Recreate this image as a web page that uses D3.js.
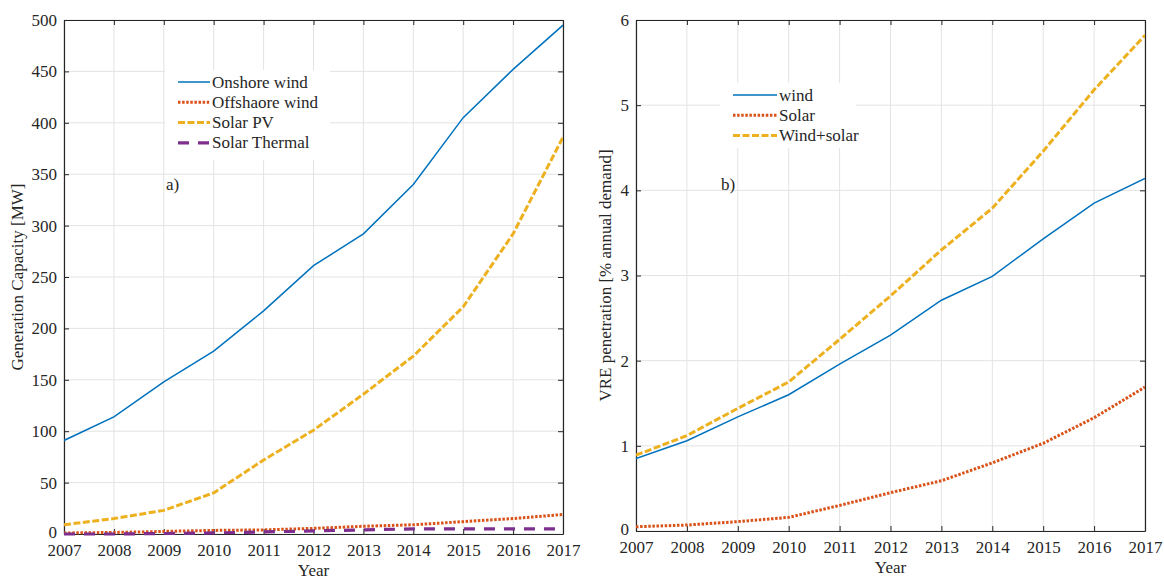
<!DOCTYPE html>
<html>
<head>
<meta charset="utf-8">
<script src="https://cdn.jsdelivr.net/npm/d3@7"></script>
<style>
  body { margin: 0; background: #fff; }
  svg, text { font-family: "Liberation Serif", "Times New Roman", serif; }
  text { fill: #262626; }
</style>
</head>
<body>
<div id="chart"></div>
<script>
const years = [2007, 2008, 2009, 2010, 2011, 2012, 2013, 2014, 2015, 2016, 2017];

// panel a) generation capacity [MW]
const onshoreWind = [91, 114, 148, 178, 217, 261, 292, 340, 405, 452, 495];
const offshoreWind = [1, 1.5, 2.5, 3.5, 4, 5.5, 7.5, 9, 12, 15, 19];
const solarPV = [9, 15, 23, 40, 72, 101, 136, 173, 221, 292, 386];
const solarThermal = [0, 0, 0.5, 1, 2, 3, 4, 5, 5, 5, 5];

// panel b) VRE penetration [% annual demand]
const windPen = [0.85, 1.06, 1.34, 1.6, 1.96, 2.3, 2.71, 2.99, 3.43, 3.85, 4.14];
const solarPen = [0.05, 0.07, 0.11, 0.16, 0.3, 0.45, 0.59, 0.8, 1.03, 1.33, 1.69];
const windSolarPen = [0.89, 1.12, 1.44, 1.75, 2.25, 2.76, 3.3, 3.79, 4.46, 5.18, 5.82];

const yTicksA = [0, 50, 100, 150, 200, 250, 300, 350, 400, 450, 500];
const yTicksB = [0, 1, 2, 3, 4, 5, 6];

const C = { blue: '#0072BD', orange: '#D95319', yellow: '#EDB120', purple: '#7E2F8E' };

const styles = {
  solid: { w: 1.5, dash: null },
  dotted: { w: 3, dash: '2.5,1.6' },
  dashdot: { w: 3, dash: '7,2.5' },
  dashed: { w: 3.2, dash: '11,9' }
};

const FONT = '"Liberation Serif", "Times New Roman", serif';

const svg = d3.select('#chart').append('svg')
  .attr('width', 1164).attr('height', 579);

function panel(opts) {
  const { left, right, top, bottom, yMax, yTicks, series, yLabel, tag, legend } = opts;
  const x = d3.scaleLinear().domain([2007, 2017]).range([left, right]);
  const y = d3.scaleLinear().domain([0, yMax]).range([bottom, top]);
  const g = svg.append('g');

  // grid
  g.append('g').selectAll('line').data(years).join('line')
    .attr('x1', d => x(d)).attr('x2', d => x(d))
    .attr('y1', top).attr('y2', bottom)
    .attr('stroke', '#e3e3e3').attr('stroke-width', 1);
  g.append('g').selectAll('line').data(yTicks).join('line')
    .attr('x1', left).attr('x2', right)
    .attr('y1', d => y(d)).attr('y2', d => y(d))
    .attr('stroke', '#e3e3e3').attr('stroke-width', 1);

  // axes (inward ticks, box)
  const tick = 5;
  const axB = g.append('g').attr('transform', `translate(0,${bottom})`)
    .call(d3.axisBottom(x).tickValues(years).tickFormat(d3.format('d')).tickSizeInner(-tick).tickSizeOuter(0).tickPadding(10));
  const axT = g.append('g').attr('transform', `translate(0,${top})`)
    .call(d3.axisTop(x).tickValues(years).tickFormat('').tickSizeInner(-tick).tickSizeOuter(0));
  const axL = g.append('g').attr('transform', `translate(${left},0)`)
    .call(d3.axisLeft(y).tickValues(yTicks).tickFormat(d3.format('d')).tickSizeInner(-tick).tickSizeOuter(0).tickPadding(7));
  const axR = g.append('g').attr('transform', `translate(${right},0)`)
    .call(d3.axisRight(y).tickValues(yTicks).tickFormat('').tickSizeInner(-tick).tickSizeOuter(0));
  [axB, axT, axL, axR].forEach(a => {
    a.attr('font-family', FONT).attr('font-size', 17);
    a.selectAll('path').attr('stroke', '#262626').attr('stroke-width', 1.2);
    a.selectAll('line').attr('stroke', '#262626');
    a.selectAll('text').attr('fill', '#262626');
  });
  // lift the "0" label slightly so it clears the year labels
  axL.selectAll('.tick text').filter(d => d === 0).attr('dy', '0.2em');

  // lines (drawn over the axes, like MATLAB)
  const clipId = 'clip' + tag.replace(')', '');
  g.append('clipPath').attr('id', clipId).append('rect')
    .attr('x', left).attr('y', top - 2).attr('width', right - left).attr('height', bottom - top + 5);
  const line = d3.line().x((d, i) => x(years[i])).y(d => y(d));
  series.forEach(s => {
    const st = styles[s.style];
    g.append('path').datum(s.values)
      .attr('clip-path', `url(#${clipId})`)
      .attr('d', line)
      .attr('fill', 'none')
      .attr('stroke', s.color)
      .attr('stroke-width', st.w)
      .attr('stroke-dasharray', st.dash);
  });

  g.append('text').attr('x', (left + right) / 2).attr('y', bottom + 42)
    .attr('text-anchor', 'middle').attr('font-size', 17).text('Year');
  g.append('text')
    .attr('transform', `translate(${opts.yLabelX},${(top + bottom) / 2}) rotate(-90)`)
    .attr('text-anchor', 'middle').attr('font-size', 17).text(yLabel);
  g.append('text').attr('x', opts.tagX).attr('y', 190).attr('font-size', 17).text(tag);

  // legend
  const lg = g.append('g');
  lg.append('rect').attr('x', legend.x).attr('y', legend.y)
    .attr('width', legend.w).attr('height', legend.h).attr('fill', '#fff');
  series.forEach((s, i) => {
    const ly = legend.y + 12 + i * 20.3;
    const st = styles[s.style];
    lg.append('line').attr('x1', legend.x + 13).attr('x2', legend.x + 13 + legend.sample)
      .attr('y1', ly).attr('y2', ly)
      .attr('stroke', s.color).attr('stroke-width', st.w)
      .attr('stroke-dasharray', st.dash);
    lg.append('text').attr('x', legend.x + 15 + legend.sample).attr('y', ly + 5.5)
      .attr('font-size', 17).text(s.name);
  });
}

panel({
  left: 64, right: 563, top: 20, bottom: 534, yMax: 500, yTicks: yTicksA,
  yLabel: 'Generation Capacity [MW]', yLabelX: 23, tag: 'a)', tagX: 166,
  series: [
    { name: 'Onshore wind', values: onshoreWind, color: C.blue, style: 'solid' },
    { name: 'Offshaore wind', values: offshoreWind, color: C.orange, style: 'dotted' },
    { name: 'Solar PV', values: solarPV, color: C.yellow, style: 'dashdot' },
    { name: 'Solar Thermal', values: solarThermal, color: C.purple, style: 'dashed' }
  ],
  legend: { x: 165, y: 70, w: 165, h: 90, sample: 32 }
});

panel({
  left: 636, right: 1145, top: 20, bottom: 531, yMax: 6, yTicks: yTicksB,
  yLabel: 'VRE penetration [% annual demand]', yLabelX: 611, tag: 'b)', tagX: 721,
  series: [
    { name: 'wind', values: windPen, color: C.blue, style: 'solid' },
    { name: 'Solar', values: solarPen, color: C.orange, style: 'dotted' },
    { name: 'Wind+solar', values: windSolarPen, color: C.yellow, style: 'dashdot' }
  ],
  legend: { x: 720, y: 83, w: 136, h: 65, sample: 44 }
});
</script>
</body>
</html>
